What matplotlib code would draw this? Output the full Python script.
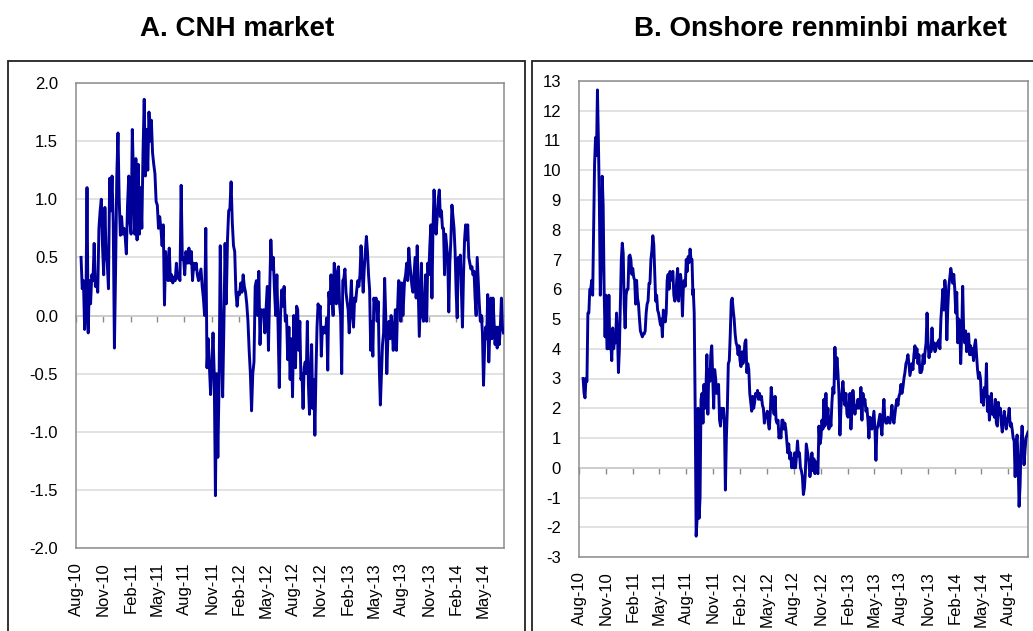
import matplotlib
matplotlib.use('Agg')
import matplotlib.pyplot as plt
import matplotlib.dates as mdates
import pandas as pd
from matplotlib.patches import Rectangle
from matplotlib.ticker import FormatStrFormatter

plt.rcParams['font.family'] = ['Liberation Sans', 'DejaVu Sans']

# panel A: CNH market, daily values in four yearly pieces
cnh_periods = [('2010-08-18', '2011-08-06'), ('2011-08-08', '2012-08-07'),
               ('2012-08-09', '2013-08-09'), ('2013-08-11', '2014-07-10')]
cnh_y1 = [
    0.5, 0.23, 0.3, -0.12, 0.0, 1.1, -0.15, 0.3, 0.1, 0.35, 0.3, 0.62, 0.25, 0.3, 0.2, 0.75,
    0.9, 1.0, 0.6, 0.35, 0.93, 0.55, 0.45, 0.23, 1.18, 0.9, 1.2, 0.8, -0.28, 0.4, 1.2, 1.57,
    1.0, 0.69, 0.85, 0.7, 0.75, 0.68, 0.53, 0.95, 1.2, 0.8, 0.7, 1.6, 1.2, 0.7, 1.35, 0.65,
    1.3, 0.7, 1.1, 0.75, 1.4, 1.86, 1.2, 1.6, 1.25, 1.75, 1.5, 1.68, 1.4, 1.3, 1.22, 0.98,
    0.95, 0.75, 0.85, 0.75, 0.6, 0.78, 0.09, 0.55, 0.4, 0.3, 0.58, 0.3, 0.35, 0.28, 0.33, 0.3,
    0.45, 0.32, 0.35, 0.3, 1.12, 0.48, 0.5, 0.35, 0.55,
]
cnh_y2 = [
    0.5, 0.45, 0.58, 0.45, 0.55, 0.3, 0.45, 0.4, 0.45, 0.35, 0.3, 0.35, 0.4, 0.25, 0.15, 0.0,
    0.75, -0.45, -0.2, -0.45, -0.68, -0.45, -0.15, -0.5, -1.55, -0.5, -1.22, -0.6, 0.6, -0.2,
    -0.7, -0.1, 0.62, 0.1, 0.65, 0.9, 0.92, 1.15, 0.8, 0.6, 0.55, 0.2, 0.08, 0.2, 0.18, 0.28,
    0.2, 0.35, 0.25, 0.2, 0.1, -0.05, -0.3, -0.5, -0.82, -0.5, -0.4, 0.25, 0.3, 0.0, 0.38,
    -0.25, 0.05, 0.03, 0.05, -0.15, 0.05, 0.25, -0.3, 0.2, 0.65, 0.4, 0.5, 0.22, 0.0, 0.35,
    -0.1, -0.62, 0.0, 0.22, 0.08, 0.25, -0.05, 0.0, -0.38, -0.1, -0.55, -0.2, -0.7, 0.0, -0.3,
]
cnh_y3 = [
    -0.45, 0.08, 0.05, -0.3, -0.05, -0.55, -0.5, -0.8, -0.45, -0.4, -0.5, -0.05, -0.6, -0.85,
    -0.5, -0.25, -0.8, -0.55, -1.03, -0.5, -0.1, 0.1, 0.03, 0.08, -0.35, -0.1, -0.15, -0.1,
    -0.15, -0.02, -0.47, 0.2, 0.1, 0.35, 0.15, 0.0, 0.45, 0.38, 0.1, 0.3, 0.42, 0.1, 0.0, -0.5,
    0.3, 0.32, 0.4, 0.2, 0.12, 0.05, -0.15, 0.1, 0.3, 0.0, -0.1, 0.15, 0.12, 0.22, 0.3, 0.25,
    0.35, 0.6, 0.4, 0.2, 0.4, 0.55, 0.68, 0.55, 0.35, 0.22, -0.3, -0.05, -0.35, 0.15, 0.08,
    0.15, -0.05, 0.12, -0.45, -0.77, -0.5, -0.25, -0.15, 0.32, 0.0, -0.5, -0.2, -0.05, -0.2,
    0.0, -0.1, -0.3, -0.1, 0.05, -0.3, 0.05, 0.3, 0.28, -0.05, 0.28, 0.0, 0.2,
]
cnh_y4 = [
    0.3, 0.35, 0.45, 0.3, 0.58, 0.45, 0.35, 0.25, 0.2, 0.35, 0.5, 0.15, 0.6, 0.2, -0.18, 0.15,
    0.45, 0.0, -0.05, 0.1, 0.35, -0.05, 0.45, 0.35, 0.6, 0.78, 0.15, 0.75, 1.08, 0.85, 0.7,
    0.85, 1.0, 1.08, 0.85, 0.9, 0.75, 0.75, 0.35, 0.7, 0.6, 0.5, 0.03, 0.45, 0.65, 0.95, 0.85,
    0.75, 0.55, 0.2, -0.02, 0.5, 0.4, 0.52, 0.2, -0.1, 0.35, 0.65, 0.78, 0.65, 0.78, 0.5, 0.45,
    0.4, 0.42, 0.35, 0.38, 0.15, 0.0, 0.5, 0.3, 0.1, -0.05, 0.0, -0.15, -0.6, -0.3, -0.1, -0.2,
    0.18, -0.4, -0.15, 0.15, -0.2, 0.15, -0.05, -0.25, -0.1, -0.28, -0.1, -0.25, -0.1, 0.15,
    -0.1, -0.15,
]

# panel B: onshore renminbi market
cny_periods = [('2010-08-15', '2011-08-24'), ('2011-08-25', '2012-09-13'),
               ('2012-09-22', '2013-10-05'), ('2013-10-09', '2014-10-08')]
cny_y1 = [
    3.0, 2.5, 2.35, 3.0, 2.9, 5.2, 5.2, 6.0, 6.0, 6.3, 5.8, 8.0, 10.2, 11.1, 10.5, 12.7, 11.0,
    9.0, 5.8, 7.0, 9.8, 8.8, 6.0, 4.4, 5.8, 4.0, 4.0, 5.8, 4.0, 4.2, 3.6, 4.7, 4.0, 4.3, 4.2,
    5.2, 4.5, 3.2, 4.0, 5.5, 7.0, 7.55, 7.2, 5.5, 4.7, 5.8, 6.0, 6.0, 7.1, 7.15, 7.0, 6.5, 6.7,
    6.4, 6.3, 5.5, 6.3, 5.7, 5.5, 5.0, 4.6, 4.5, 4.4, 4.5, 4.5, 4.6, 5.2, 5.5, 5.6, 6.2, 6.2,
    7.0, 7.3, 7.8, 7.5, 6.5, 5.6, 5.8, 5.3, 5.2, 5.0, 4.8, 5.0, 4.4, 5.3, 5.0, 4.9, 5.2, 6.3,
    6.5, 6.0, 6.6, 6.3, 6.5, 6.6, 5.8, 5.6, 5.7, 6.3, 6.7, 5.6, 6.2, 6.5, 6.2, 5.1, 6.1, 6.3,
    6.1, 7.0, 6.6, 7.1, 6.9, 7.35, 7.0, 7.0, 5.8,
]
cny_y2 = [
    6.0, 5.2, 2.0, -2.3, -1.7, 2.0, -1.7, -1.0, 2.3, 2.5, 1.5, 2.8, 2.0, 2.6, 3.8, 1.8, 3.3,
    2.9, 3.8, 4.1, 3.0, 2.0, 3.3, 3.0, 2.5, 2.7, 2.8, 1.6, 1.4, 2.0, 1.7, 2.0, 1.5, -0.75, 1.0,
    2.0, 3.5, 3.6, 4.5, 5.6, 5.7, 5.3, 5.0, 4.5, 4.2, 4.1, 3.8, 4.1, 3.6, 3.4, 3.9, 3.5, 3.7,
    4.2, 4.3, 3.2, 3.5, 3.3, 2.5, 2.2, 1.9, 2.4, 2.0, 2.2, 2.5, 2.4, 2.6, 2.3, 2.5, 2.3, 2.4,
    2.1, 2.0, 1.5, 1.8, 1.7, 1.9, 1.5, 1.3, 1.8, 2.7, 2.3, 2.0, 1.8, 2.4, 1.6, 1.5, 1.6, 1.0,
    1.2, 1.0, 1.6, 1.6, 1.3, 1.5, 1.3, 0.9, 0.5, 0.8, 0.3, 0.5, 0.0, 0.3, 0.0, 0.5, 0.0, 0.4,
    0.9, 0.4, 0.5, 0.0, -0.1, -0.3, -0.9, -0.7, -0.2, 0.8,
]
cny_y3 = [
    0.2, -0.3, 0.0, 0.5, -0.1, 0.3, -0.2, 0.2, -0.1, -0.2, 1.4, 0.8, 1.0, 1.6, 1.3, 2.3, 1.4,
    2.5, 1.5, 2.0, 1.3, 1.7, 1.4, 2.2, 2.7, 2.5, 4.05, 3.0, 3.7, 3.2, 2.5, 1.1, 2.0, 2.5, 2.9,
    2.4, 2.1, 2.5, 1.8, 1.7, 2.0, 2.5, 1.3, 2.0, 2.6, 2.2, 1.8, 2.1, 2.0, 2.3, 2.0, 2.1, 2.7,
    1.6, 2.5, 2.2, 2.3, 1.9, 2.0, 1.6, 1.0, 1.7, 1.6, 1.3, 1.6, 1.9, 1.3, 0.25, 1.3, 1.4, 1.6,
    1.8, 1.4, 1.1, 1.8, 2.3, 1.6, 1.5, 1.5, 1.7, 1.6, 1.5, 1.7, 2.1, 1.7, 1.5, 1.8, 2.1, 2.3,
    2.1, 2.4, 2.5, 2.8, 2.5, 2.7, 3.0, 3.2, 3.5, 3.6, 3.8, 3.5, 3.1, 3.3, 3.5, 3.3, 3.8, 4.1,
    3.7, 4.0, 3.5, 3.8, 3.2,
]
cny_y4 = [
    3.2, 3.3, 3.8, 3.5, 3.9, 4.2, 5.2, 4.2, 3.7, 4.0, 3.9, 4.7, 4.0, 4.2, 3.9, 4.0, 4.2, 4.1,
    4.3, 4.0, 5.0, 5.5, 6.0, 5.3, 6.3, 5.9, 4.3, 5.4, 6.1, 6.4, 6.7, 6.5, 6.2, 6.5, 6.0, 5.2,
    5.9, 4.2, 5.0, 4.8, 3.5, 4.5, 6.1, 4.6, 4.2, 4.6, 3.9, 4.2, 4.5, 3.8, 4.1, 3.8, 4.0, 3.6,
    4.1, 4.3, 3.8, 3.3, 3.0, 3.2, 3.0, 2.2, 2.6, 2.1, 2.7, 2.4, 3.5, 1.9, 2.4, 1.6, 2.0, 2.5,
    1.8, 2.0, 1.7, 2.3, 1.5, 1.4, 2.2, 1.8, 2.0, 1.5, 1.2, 1.6, 1.9, 1.6, 1.3, 1.6, 1.7, 2.0,
    1.4, 1.5, 1.3, 1.0, 0.9, -0.3, 0.8, 1.1, 0.2, -1.3, -0.6, 0.8, 1.4, 0.8, 0.1, 0.6, 1.0,
    1.1, 1.2,
]

titles = ['A. CNH market', 'B. Onshore renminbi market']
line_color = '#000099'
grey = '#8c8c8c'


def build_series(periods, pieces):
    dates, values = [], []
    for (start, end), vals in zip(periods, pieces):
        dates.extend(pd.date_range(start, end, periods=len(vals)))
        values.extend(vals)
    return dates, values


def draw_panel(ax, dates, values, xlim, ylim, yticks, fmt):
    ax.plot(dates, values, color=line_color, lw=2.1, zorder=4)
    ax.set_xlim(pd.Timestamp(xlim[0]), pd.Timestamp(xlim[1]))
    ax.set_ylim(ylim)
    ax.set_yticks(yticks)
    ax.yaxis.set_major_formatter(FormatStrFormatter(fmt))
    ax.grid(axis='y', color='#dadada', lw=1.1)
    ax.set_axisbelow(True)
    for s in ax.spines.values():
        s.set_color(grey)
        s.set_linewidth(1.1)
    ax.xaxis.set_major_locator(mdates.MonthLocator(bymonth=[2, 5, 8, 11]))
    ax.xaxis.set_major_formatter(mdates.DateFormatter('%b-%y'))
    ax.tick_params(axis='x', length=0, labelrotation=90, labelsize=12, pad=10)
    ax.tick_params(axis='y', length=0, labelsize=12, pad=13)
    # zero line carrying the tick marks, like Excel's crossing axis
    zero_frac = (0 - ylim[0]) / (ylim[1] - ylim[0])
    sec = ax.secondary_xaxis(zero_frac)
    sec.set_alignment('bottom')
    sec.xaxis.set_major_locator(mdates.MonthLocator(bymonth=[2, 5, 8, 11]))
    sec.tick_params(axis='x', length=4, width=1, color=grey, labelbottom=False, labeltop=False)
    for s in sec.spines.values():
        s.set_color(grey)
        s.set_linewidth(1.1)


fig = plt.figure(figsize=(10.33, 6.31), dpi=100)
W, H = 1033, 631

ax1 = fig.add_axes([76 / W, 1 - 548 / H, (503.5 - 76) / W, (548 - 83) / H])
ax2 = fig.add_axes([579 / W, 1 - 557 / H, (1028 - 579) / W, (557 - 81) / H])

cnh_dates, cnh_values = build_series(cnh_periods, [cnh_y1, cnh_y2, cnh_y3, cnh_y4])
cny_dates, cny_values = build_series(cny_periods, [cny_y1, cny_y2, cny_y3, cny_y4])

draw_panel(ax1, cnh_dates, cnh_values, ('2010-08-01', '2014-07-10'),
           (-2.0, 2.0), [-2.0, -1.5, -1.0, -0.5, 0.0, 0.5, 1.0, 1.5, 2.0], '%.1f')
draw_panel(ax2, cny_dates, cny_values, ('2010-08-01', '2014-10-08'),
           (-3, 13), list(range(-3, 14)), '%d')

# outer frames around each panel
fig.add_artist(Rectangle((8 / W, -0.2), (525 - 8) / W, 1.2 - 61 / H, transform=fig.transFigure,
                         fill=False, ec='#222222', lw=1.3))
fig.add_artist(Rectangle((532 / W, -0.2), 0.6, 1.2 - 61 / H, transform=fig.transFigure,
                         fill=False, ec='#222222', lw=1.3))

fig.text(237 / W, 1 - 29 / H, titles[0], ha='center', va='center', fontsize=20, fontweight='bold')
fig.text(820 / W, 1 - 29 / H, titles[1], ha='center', va='center', fontsize=20, fontweight='bold')

fig.savefig('out.png', dpi=100)
